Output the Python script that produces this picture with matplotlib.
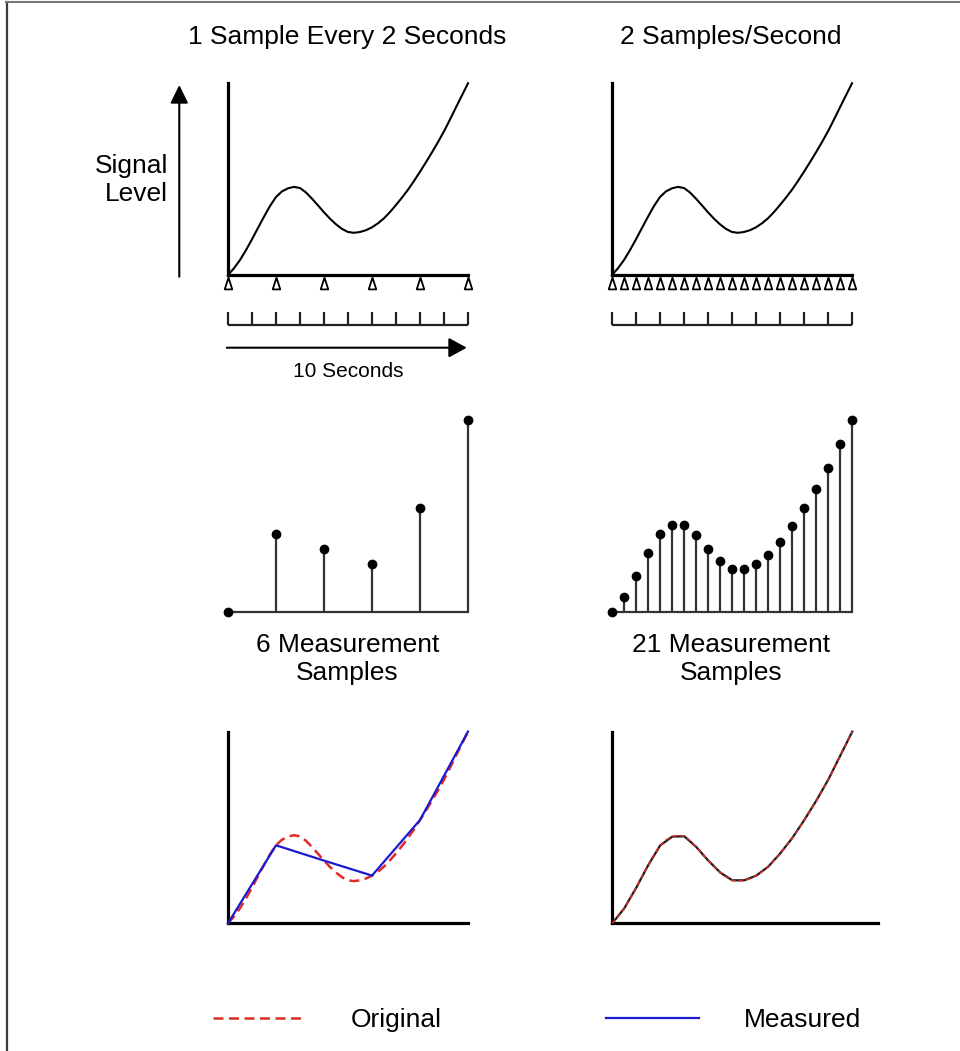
import matplotlib
matplotlib.use('Agg')
import matplotlib.pyplot as plt
from matplotlib.lines import Line2D
from matplotlib.path import Path

plt.rcParams['font.family'] = ['Liberation Sans', 'DejaVu Sans']

# original signal, read every 0.25 s over 10 seconds
orig_t = [i * 0.25 for i in range(41)]
orig_level = [0, 6.8, 15, 24.9, 35.7, 47.1, 58.3, 69.0, 78, 83.6, 86.7, 88.1, 87, 82.5,
              76.3, 69.6, 62.7, 56.3, 50.7, 46.1, 43, 42.2, 43, 44.8, 47.7, 51.7,
              56.7, 63.0, 70, 77.4, 85.3, 94.0, 103.3, 112.8, 122.7, 132.9, 143.7, 155.5,
              167.7, 179.7, 191.7]

# 1 sample every 2 seconds -> 6 samples, 2 samples/second -> 21 samples
slow_t = orig_t[::8]
slow_level = orig_level[::8]
fast_t = orig_t[::2]
fast_level = orig_level[::2]

ruler_ticks = list(range(11))  # one tick per second

W, H = 960, 1051
PX_S = 24.0  # pixels per second

fig = plt.figure(figsize=(W / 100, H / 100), dpi=100)


def make_panel(ox, oy, xlo, xhi, ylo, yhi):
    # ox, oy = pixel of (t=0, level=0), y counted from top
    left = (ox + xlo * PX_S) / W
    bottom = (H - oy + ylo) / H
    ax = fig.add_axes([left, bottom, (xhi - xlo) * PX_S / W, (yhi - ylo) / H])
    ax.set_xlim(xlo, xhi)
    ax.set_ylim(ylo, yhi)
    ax.set_xticks([])
    ax.set_yticks([])
    for s in ax.spines.values():
        s.set_visible(False)
    ax.patch.set_alpha(0)
    return ax


def draw_axes_lines(ax, xend):
    for side in ['left', 'bottom']:
        sp = ax.spines[side]
        sp.set_visible(True)
        sp.set_position(('data', 0))
        sp.set_linewidth(2.3)
        sp.set_color('black')
    ax.spines['left'].set_bounds(0, max(orig_level))
    ax.spines['bottom'].set_bounds(0, xend)


tri = Path([(-0.32, -0.5), (0.32, -0.5), (0.0, 0.5), (-0.32, -0.5)],
           [Path.MOVETO, Path.LINETO, Path.LINETO, Path.CLOSEPOLY])

# ---- top row: signal with sample points and ruler
for ox, st in [(228, slow_t), (612, fast_t)]:
    ax = make_panel(ox, 275, -5, 11.5, -110, 200)
    draw_axes_lines(ax, 10)
    ax.plot(orig_t, orig_level, color='black', lw=1.5, zorder=3,
            solid_joinstyle='round')
    ax.plot(st, [-8.5] * len(st), linestyle='none', marker=tri, markersize=8.5,
            markerfacecolor='white', markeredgecolor='black', markeredgewidth=1.3,
            clip_on=False)
    ax.hlines(-50, 0, 10, color='#222222', lw=1.6)
    ax.vlines(ruler_ticks, -50, -36.7, color='#222222', lw=1.6)
    if ox == 228:
        ax.annotate('', xy=(9.95, -72.7), xytext=(-0.05, -72.7),
                    arrowprops=dict(arrowstyle='-|>,head_length=0.55,head_width=0.3',
                                    lw=1.5, color='black', mutation_scale=20,
                                    shrinkA=0, shrinkB=0))
        ax.text(5, -97, '10 Seconds', ha='center', va='center', fontsize=15)
        ax.annotate('', xy=(-2.03, 190), xytext=(-2.03, -1.7),
                    arrowprops=dict(arrowstyle='-|>,head_length=0.55,head_width=0.27',
                                    lw=1.5, color='black', mutation_scale=20,
                                    shrinkA=0, shrinkB=0))

# ---- middle row: measured samples as stems
for ox, st, sv in [(227.5, slow_t, slow_level), (612.3, fast_t, fast_level)]:
    ax = make_panel(ox, 611.7, -1, 11, -10, 200)
    ml, sl, bl = ax.stem(st, sv, linefmt='-', markerfmt='o', basefmt='-')
    plt.setp(sl, color='#333333', linewidth=1.6)
    plt.setp(bl, color='#333333', linewidth=1.6)
    plt.setp(ml, color='black', markersize=6, zorder=3)
    for a in [ml, sl, bl]:
        a.set_clip_on(False)

# ---- bottom row: original vs reconstructed
ax = make_panel(228, 923.3, -1, 11.5, -10, 200)
draw_axes_lines(ax, 10)
orig_line, = ax.plot(orig_t, orig_level, color='#e02a2a', lw=1.8,
                     linestyle=(0, (4, 2.2)), zorder=2)
meas_line, = ax.plot(slow_t, slow_level, color='#1a1ad0', lw=1.6, zorder=3)

ax = make_panel(612.3, 923.3, -1, 11.5, -10, 200)
draw_axes_lines(ax, 11.08)
ax.plot(fast_t, fast_level, color='#1a1a1a', lw=1.6, zorder=2)
ax.plot(orig_t, orig_level, color='#e02a2a', lw=1.1, linestyle=(0, (3, 2)), zorder=3)

# ---- text
fig.text(347.5 / W, 1 - 37 / H, '1 Sample Every 2 Seconds', ha='center', va='center', fontsize=19)
fig.text(731 / W, 1 - 37 / H, '2 Samples/Second', ha='center', va='center', fontsize=19)
fig.text(168 / W, 1 - 180 / H, 'Signal\nLevel', ha='right', va='center',
         multialignment='right', fontsize=19, linespacing=1.25)
fig.text(347.5 / W, 1 - 659 / H, '6 Measurement\nSamples', ha='center', va='center',
         fontsize=19, linespacing=1.25)
fig.text(731 / W, 1 - 659 / H, '21 Measurement\nSamples', ha='center', va='center',
         fontsize=19, linespacing=1.25)

fig.legend(handles=[orig_line, meas_line], labels=['Original', 'Measured'],
           loc='center', bbox_to_anchor=(537 / W, 1 - 1020 / H), ncol=2,
           frameon=False, fontsize=19, handlelength=3.55, handletextpad=1.7,
           columnspacing=6.2)

# image frame on left and top
fig.add_artist(Line2D([6.5 / W, 6.5 / W], [0, 1 - 2 / H], transform=fig.transFigure,
                      color='#3a3a3a', lw=1.6))
fig.add_artist(Line2D([6 / W, 1], [1 - 2 / H, 1 - 2 / H], transform=fig.transFigure,
                      color='#777777', lw=1.5))

fig.savefig('out.png', dpi=100)
